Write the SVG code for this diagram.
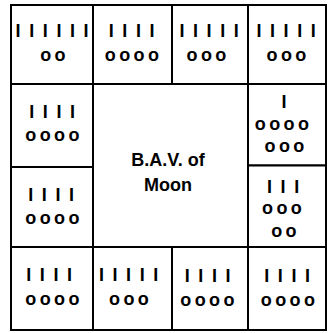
<svg xmlns="http://www.w3.org/2000/svg" width="329" height="333" viewBox="0 0 329 333">
<style>
  .cell { fill: #fff; stroke: #000; stroke-width: 2; }
  .t { font-family: "Liberation Sans", Arial, sans-serif; font-weight: bold; font-size: 18px; text-anchor: middle; letter-spacing: 1.8px; fill: #000; }
  .o { font-family: "Liberation Sans", Arial, sans-serif; font-weight: bold; font-size: 18px; text-anchor: middle; letter-spacing: -0.8px; fill: #000; }
  .lbl { font-family: "Liberation Sans", Arial, sans-serif; font-weight: bold; font-size: 18px; text-anchor: middle; fill: #000; }
</style>
<rect width="329" height="333" fill="#fff"/>
<g id="connectors"></g>

<g id="cell-r1c1">
  <rect class="cell" x="11" y="5" width="82" height="79"/>
  <text class="t" x="53" y="37">I I I I I I</text>
  <text class="o" x="52.5" y="61">o o</text>
</g>
<g id="cell-r1c2">
  <rect class="cell" x="93" y="5" width="79" height="79"/>
  <text class="t" x="132.5" y="37">I I I I</text>
  <text class="o" x="131.5" y="61">o o o o</text>
</g>
<g id="cell-r1c3">
  <rect class="cell" x="172" y="5" width="76" height="79"/>
  <text class="t" x="210" y="37">I I I I I</text>
  <text class="o" x="206" y="61">o o o</text>
</g>
<g id="cell-r1c4">
  <rect class="cell" x="248" y="5" width="78" height="79"/>
  <text class="t" x="287" y="37">I I I I I</text>
  <text class="o" x="286" y="61">o o o</text>
</g>

<g id="cell-r2c1">
  <rect class="cell" x="11" y="84" width="82" height="83"/>
  <text class="t" x="53" y="118">I I I I</text>
  <text class="o" x="52" y="141">o o o o</text>
</g>
<g id="cell-center">
  <rect class="cell" x="93" y="84" width="155" height="163"/>
  <text class="lbl" x="168" y="166">B.A.V. of</text>
  <text class="lbl" x="168" y="191">Moon</text>
</g>
<g id="cell-r2c4">
  <rect class="cell" x="248" y="84" width="78" height="81.5"/>
  <text class="t" x="285" y="108">I</text>
  <text class="o" x="281.5" y="130">o o o o</text>
  <text class="o" x="284" y="152">o o o</text>
</g>

<g id="cell-r3c1">
  <rect class="cell" x="11" y="167" width="82" height="80"/>
  <text class="t" x="52" y="201">I I I I</text>
  <text class="o" x="52" y="224">o o o o</text>
</g>
<g id="cell-r3c4">
  <rect class="cell" x="248" y="165.5" width="78" height="81.5"/>
  <text class="t" x="284" y="193">I I I</text>
  <text class="o" x="281.5" y="214">o o o</text>
  <text class="o" x="283.5" y="237">o o</text>
</g>

<g id="cell-r4c1">
  <rect class="cell" x="11" y="247" width="82" height="83"/>
  <text class="t" x="50" y="281">I I I I</text>
  <text class="o" x="52" y="305">o o o o</text>
</g>
<g id="cell-r4c2">
  <rect class="cell" x="93" y="247" width="79" height="83"/>
  <text class="t" x="129.5" y="281">I I I I I</text>
  <text class="o" x="128.5" y="305">o o o</text>
</g>
<g id="cell-r4c3">
  <rect class="cell" x="172" y="247" width="76" height="83"/>
  <text class="t" x="208.5" y="282">I I I I</text>
  <text class="o" x="207" y="306">o o o o</text>
</g>
<g id="cell-r4c4">
  <rect class="cell" x="248" y="247" width="78" height="83"/>
  <text class="t" x="288" y="282">I I I I</text>
  <text class="o" x="287.5" y="306">o o o o</text>
</g>
</svg>
